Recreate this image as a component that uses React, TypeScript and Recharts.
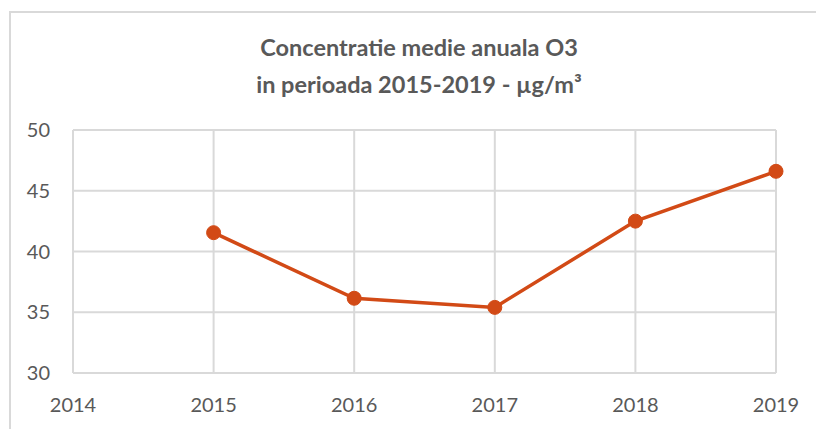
import React from 'react';
import { LineChart, Line, XAxis, YAxis, CartesianGrid } from 'recharts';

const years = [2015, 2016, 2017, 2018, 2019];
const o3Values = [41.55, 36.15, 35.4, 42.5, 46.6];
const xTicks = [2014, 2015, 2016, 2017, 2018, 2019];
const yTicks = [30, 35, 40, 45, 50];
const titleLines = ['Concentratie medie anuala O3', 'in perioada 2015-2019 - µg/m³'];

const data = years.map((y, i) => ({ year: y, value: o3Values[i] }));

const FONT = 'Lato, "Open Sans", sans-serif';
const TEXT = '#595959';
const GRID = '#d9d9d9';
const LINE = '#D24A16';

export default function App() {
  return (
    <div style={{ position: 'absolute', left: 0, top: 0, width: 816, height: 429, overflow: 'hidden', background: '#fff' }}>
      <div style={{ position: 'absolute', left: 9, top: 11, width: 900, height: 500, border: `2px solid ${GRID}` }} />
      <div style={{ position: 'absolute', left: 0, top: 29, width: 838, textAlign: 'center', fontFamily: FONT, fontWeight: 700, fontSize: 23.5, lineHeight: '37px', color: TEXT }}>
        {titleLines.map((t) => (
          <div key={t}>{t}</div>
        ))}
      </div>
      <div style={{ position: 'absolute', left: 0, top: 0 }}>
        <LineChart width={816} height={429} data={data} margin={{ top: 130, right: 40, bottom: 0, left: 0 }}>
          <CartesianGrid stroke={GRID} strokeWidth={2} />
          <XAxis
            dataKey="year"
            type="number"
            domain={[2014, 2019]}
            ticks={xTicks}
            axisLine={false}
            tickLine={false}
            tickSize={0}
            tickMargin={25}
            height={56}
            tick={{ fill: TEXT, fontSize: 20, fontFamily: FONT }}
          />
          <YAxis
            type="number"
            domain={[30, 50]}
            ticks={yTicks}
            axisLine={false}
            tickLine={false}
            tickSize={0}
            tickMargin={23}
            width={73}
            tick={{ fill: TEXT, fontSize: 20, fontFamily: FONT }}
          />
          <Line
            dataKey="value"
            stroke={LINE}
            strokeWidth={3.5}
            dot={{ r: 7, fill: LINE, stroke: LINE, strokeWidth: 1 }}
            isAnimationActive={false}
          />
        </LineChart>
      </div>
    </div>
  );
}
